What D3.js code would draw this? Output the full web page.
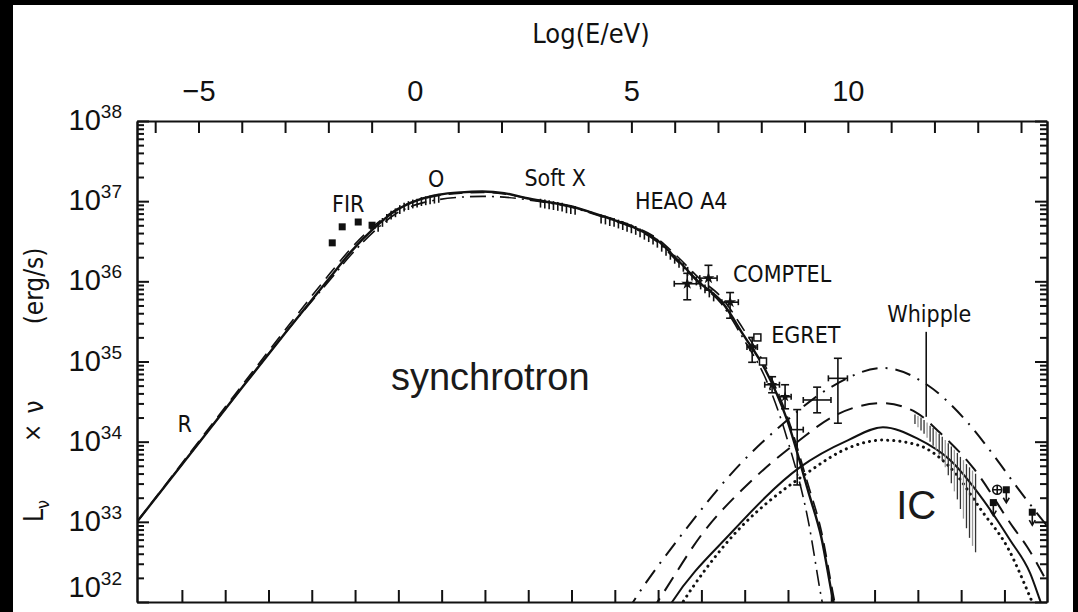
<!DOCTYPE html>
<html>
<head>
<meta charset="utf-8">
<script src="https://cdnjs.cloudflare.com/ajax/libs/d3/7.8.5/d3.min.js"></script>
<style>
  body { margin: 0; background: #000; overflow: hidden; }
  text { fill: #111; font-family: "Liberation Sans Narrow", "DejaVu Sans Condensed", "Liberation Sans", sans-serif; }
  .num { font-family: "Liberation Sans", Arial, sans-serif; }
  .big { font-family: "Liberation Sans", Arial, sans-serif; fill: #1a1a1a; }
  .axis path, .axis line { stroke: #111; stroke-width: 2; }
  .curve { fill: none; stroke: #111; }
  .bar { stroke: #111; stroke-width: 1.6; fill: none; }
</style>
</head>
<body>
<div id="chart"></div>
<script>

// ---- data: log10(E/eV) against log10(L_nu * nu / erg s^-1) ----

// synchrotron model curves
var synchE     = [-6.42,-4.97,-3.97,-2.96,-1.96,-1.46,-0.95,-0.45,0.05,0.55,1.06,1.56,2.06,2.56,3.06,3.57,4.07,4.57,5.07,5.58,6.08,6.58,7.08,7.59,8.09,8.59,9.09,9.39,9.66,9.75];
var synchSolid = [33.00,34.00,34.69,35.38,36.05,36.38,36.66,36.88,37.01,37.08,37.11,37.12,37.10,37.04,36.99,36.94,36.86,36.77,36.67,36.52,36.26,35.98,35.75,35.33,34.90,34.28,33.37,32.80,32.02,31.80];
var synchDashed= [33.00,34.02,34.72,35.42,36.10,36.42,36.69,36.89,37.01,37.07,37.10,37.11,37.09,37.04,36.99,36.94,36.86,36.78,36.68,36.54,36.30,36.03,35.80,35.40,34.95,34.33,33.45,32.88,32.10,31.85];
var synchDdE   = [-6.42,-4.97,-3.97,-2.96,-1.96,-1.46,-0.95,-0.45,0.05,0.55,1.06,1.56,2.06,2.56,3.06,3.57,4.07,4.57,5.07,5.58,6.08,6.58,7.08,7.59,8.09,8.59,9.09,9.40,9.50];
var synchDd    = [33.00,34.00,34.69,35.38,36.02,36.34,36.62,36.84,36.96,37.02,37.05,37.06,37.05,37.02,36.98,36.93,36.85,36.76,36.66,36.50,36.24,35.97,35.72,35.28,34.80,34.05,33.00,32.02,31.75];

// inverse Compton model curves
var icDdE     = [4.90,5.04,6.19,7.53,8.41,9.61,10.81,11.83,12.75,13.45,13.91,14.60];
var icDd      = [31.88,32.00,32.86,33.73,34.18,34.68,34.92,34.71,34.25,33.77,33.43,32.95];
var icDashE   = [5.45,5.60,6.65,7.79,8.89,9.61,10.81,11.59,12.13,12.90,13.82,14.14,14.60];
var icDash    = [31.88,32.00,32.86,33.52,34.02,34.30,34.48,34.36,34.11,33.67,32.93,32.69,32.25];
var icSolidE  = [5.80,5.94,7.30,8.89,10.01,10.81,11.60,12.36,13.13,13.75,14.21,14.44,14.55];
var icSolid   = [31.88,32.00,32.86,33.68,34.02,34.18,34.04,33.77,33.27,32.77,32.36,32.02,31.85];
var icDotE    = [6.05,6.19,7.14,9.06,10.05,10.81,11.60,12.36,13.13,13.68,14.21,14.35];
var icDot     = [31.88,32.00,32.70,33.61,33.93,34.02,33.96,33.68,33.11,32.69,32.06,31.88];

// measurements
var firE  = [-1.91,-1.68,-1.31,-0.99];
var firL  = [36.48,36.68,36.74,36.70];
var optE  = [-0.85,-0.75,-0.65,-0.55,-0.45,-0.35,-0.25,-0.15,-0.05,0.05,0.15,0.25,0.35,0.45,0.55];
var optL  = [36.70,36.76,36.81,36.85,36.88,36.92,36.95,36.97,36.99,37.00,37.02,37.03,37.04,37.05,37.06];
var sxE   = [2.90,3.00,3.10,3.20,3.30,3.40,3.50,3.60,3.70];
var sxL   = [37.00,36.99,36.98,36.97,36.96,36.95,36.93,36.92,36.91];
var heaoE = [4.30,4.40,4.50,4.60,4.70,4.80,4.90,5.00,5.10,5.20,5.30,5.40,5.50,5.60,5.70,5.80,5.90,6.00,6.10,6.20,6.30,6.40,6.50,6.60,6.70,6.80,6.90];
var heaoL = [36.80,36.79,36.77,36.76,36.74,36.72,36.70,36.68,36.66,36.63,36.60,36.57,36.54,36.50,36.45,36.40,36.35,36.30,36.25,36.20,36.15,36.09,36.03,35.98,35.93,35.88,35.83];

var compE   = [6.29,6.78,7.28];
var compL   = [35.97,36.04,35.74];
var compDE  = [0.30,0.20,0.19];
var compLo  = [35.77,35.89,35.54];
var compHi  = [36.10,36.20,35.86];

var egE   = [7.79,8.25,8.55,8.83,9.29,9.77];
var egL   = [35.18,34.71,34.56,34.15,34.52,34.79];
var egDE  = [0.12,0.17,0.14,0.14,0.32,0.22];
var egLo  = [34.99,34.61,34.41,33.46,34.36,34.23];
var egHi  = [35.30,34.81,34.71,34.40,34.68,35.04];
var egSqE = [7.91,8.04];
var egSqL = [35.30,35.00];

var whE   = [11.55,11.62,11.69,11.76,11.83,11.90,11.97,12.04,12.11,12.18,12.25,12.32,12.39,12.46,12.53,12.60,12.67,12.74,12.81,12.88,12.95];
var whTop = [34.34,34.32,34.30,34.27,34.24,34.20,34.17,34.13,34.10,34.06,34.02,33.98,33.94,33.90,33.86,33.81,33.77,33.72,33.68,33.64,33.60];
var whBot = [34.22,34.18,34.14,34.10,34.05,34.00,33.95,33.90,33.84,33.76,33.68,33.58,33.48,33.38,33.28,33.16,33.04,32.92,32.80,32.70,32.62];

var ulE   = [13.36,13.66,14.26];   // upper limits
var ulL   = [33.24,33.40,33.12];
var circE = [13.45];
var circL = [33.40];

// axis ticks
var topTicks    = [-6,-5,-4,-3,-2,-1,0,1,2,3,4,5,6,7,8,9,10,11,12,13,14];
var topLabels   = [-5,0,5,10];
var nuTicks     = [9,10,11,12,13,14,15,16,17,18,19,20,21,22,23,24,25,26,27,28]; // log10(nu/Hz)
var yDecades    = [32,33,34,35,36,37,38];

// ---- layout ----
var margin = {top: 121, right: 31, bottom: 10, left: 137},
    width = 1078 - margin.left - margin.right,
    height = 612 - margin.top - margin.bottom;

var svg = d3.select("#chart").append("svg")
    .attr("width", 1078)
    .attr("height", 612)
    .style("display", "block");

svg.append("rect").attr("width", 1078).attr("height", 612).attr("fill", "#000");
svg.append("rect").attr("x", 13).attr("y", 5).attr("width", 1060).attr("height", 607).attr("fill", "#fff");

var g = svg.append("g")
    .attr("transform", "translate(" + margin.left + "," + margin.top + ")");

var x = d3.scaleLinear().domain([-6.42, 14.60]).range([0, width]);
var y = d3.scaleLog().domain([1e32, 1e38]).range([height, 0]);

function Y(l) { return y(Math.pow(10, l)); }

g.append("clipPath").attr("id", "clip")
  .append("rect").attr("width", width).attr("height", height);

// ---- axes ----
g.append("g").attr("class", "axis")
  .call(d3.axisTop(x).tickValues(topTicks).tickSizeInner(-12).tickSizeOuter(0).tickPadding(20)
    .tickFormat(function(d) { return topLabels.indexOf(d) >= 0 ? d3.format("d")(d) : ""; }))
  .selectAll("text").attr("class", "num").style("font-size", "29px").attr("fill", "#111");

g.append("g").attr("class", "axis")
  .attr("transform", "translate(0," + height + ")")
  .call(d3.axisBottom(x).tickValues(nuTicks.map(function(n) { return n - 14.383; }))
    .tickSizeInner(-12).tickSizeOuter(0).tickFormat(""));

var minorY = [];
yDecades.slice(0, -1).forEach(function(k) {
  [2,3,4,5,6,7,8,9].forEach(function(m) { minorY.push(m * Math.pow(10, k)); });
});
var majorY = yDecades.map(function(k) { return Math.pow(10, k); });

g.append("g").attr("class", "axis")
  .call(d3.axisLeft(y).tickValues(majorY).tickSizeInner(-12).tickSizeOuter(0).tickFormat(""));
g.append("g").attr("class", "axis")
  .call(d3.axisLeft(y).tickValues(minorY).tickSizeInner(-7).tickSizeOuter(0).tickFormat(""));
g.append("g").attr("class", "axis")
  .attr("transform", "translate(" + width + ",0)")
  .call(d3.axisRight(y).tickValues(majorY).tickSizeInner(-12).tickSizeOuter(0).tickFormat(""));
g.append("g").attr("class", "axis")
  .attr("transform", "translate(" + width + ",0)")
  .call(d3.axisRight(y).tickValues(minorY).tickSizeInner(-7).tickSizeOuter(0).tickFormat(""));

// y tick labels 10^k
var ylab = g.selectAll(".ylab").data(yDecades).enter().append("text")
    .attr("class", "num")
    .attr("x", -15)
    .attr("y", function(d) { return Math.min(Y(d) + 9, height - 5); })
    .attr("text-anchor", "end")
    .style("font-size", "29px");
ylab.append("tspan").text("10");
ylab.append("tspan").attr("dy", -12).style("font-size", "19px").text(function(d) { return d; });

// axis titles
svg.append("text")
    .attr("x", 591).attr("y", 43)
    .attr("text-anchor", "middle")
    .style("font-size", "27px")
    .text("Log(E/eV)");

// rotated y title, pieces placed along the axis
var yt = svg.append("g").attr("transform", "translate(43,0) rotate(-90)");
var yL = yt.append("text").attr("x", -522).attr("y", 0).style("font-size", "26px");
yL.append("tspan").text("L");
yL.append("tspan").attr("dy", 6).style("font-size", "18px").text("\u03bd");
yt.append("text").attr("x", -433).attr("y", -2).attr("text-anchor", "middle").style("font-size", "24px").text("\u00d7");
yt.append("text").attr("x", -407).attr("y", 0).attr("text-anchor", "middle").style("font-size", "26px").text("\u03bd");
yt.append("text").attr("x", -286).attr("y", 0).attr("text-anchor", "middle").style("font-size", "26px").text("(erg/s)");

// ---- model curves ----
var line = d3.line().curve(d3.curveMonotoneX)
    .x(function(d) { return x(d[0]); })
    .y(function(d) { return Y(d[1]); });

var curves = g.append("g").attr("clip-path", "url(#clip)");

function addCurve(es, ls, dash, w, cap) {
  curves.append("path")
    .attr("class", "curve")
    .attr("d", line(d3.zip(es, ls)))
    .attr("stroke-width", w)
    .attr("stroke-dasharray", dash)
    .attr("stroke-linecap", cap || "butt");
}

addCurve(synchDdE, synchDd, "16,6,2,6", 1.6);
addCurve(synchE, synchDashed, "14,8", 1.6);
addCurve(synchE, synchSolid, null, 2.4);

addCurve(icDdE, icDd, "16,8,2,8", 2);
addCurve(icDashE, icDash, "16,9", 2);
addCurve(icSolidE, icSolid, null, 2);
addCurve(icDotE, icDot, "0.1,6", 3, "round");

// ---- data points ----
var pts = g.append("g");

// FIR squares
pts.selectAll(".fir").data(d3.zip(firE, firL)).enter().append("rect")
  .attr("x", function(d) { return x(d[0]) - 3.5; })
  .attr("y", function(d) { return Y(d[1]) - 3.5; })
  .attr("width", 7).attr("height", 7)
  .attr("fill", "#111");

// dense hatching of optical / soft X / HEAO A4 spectra
var hatch = d3.zip(optE, optL).concat(d3.zip(sxE, sxL), d3.zip(heaoE, heaoL));
pts.selectAll(".hatch").data(hatch).enter().append("line")
  .attr("class", "bar")
  .attr("stroke-width", 1.3)
  .attr("x1", function(d) { return x(d[0]); })
  .attr("x2", function(d) { return x(d[0]); })
  .attr("y1", function(d) { return Y(d[1] + 0.03); })
  .attr("y2", function(d) { return Y(d[1] - 0.08); });

// crosses with caps
function crosses(es, ls, de, lo, hi) {
  var sel = pts.selectAll(null).data(d3.range(es.length)).enter().append("g");
  sel.append("line").attr("class", "bar")
    .attr("x1", function(i) { return x(es[i] - de[i]); })
    .attr("x2", function(i) { return x(es[i] + de[i]); })
    .attr("y1", function(i) { return Y(ls[i]); })
    .attr("y2", function(i) { return Y(ls[i]); });
  sel.append("line").attr("class", "bar")
    .attr("x1", function(i) { return x(es[i]); })
    .attr("x2", function(i) { return x(es[i]); })
    .attr("y1", function(i) { return Y(lo[i]); })
    .attr("y2", function(i) { return Y(hi[i]); });
  [lo, hi].forEach(function(arr) {
    sel.append("line").attr("class", "bar")
      .attr("x1", function(i) { return x(es[i]) - 4; })
      .attr("x2", function(i) { return x(es[i]) + 4; })
      .attr("y1", function(i) { return Y(arr[i]); })
      .attr("y2", function(i) { return Y(arr[i]); });
  });
  [-1, 1].forEach(function(s) {
    sel.append("line").attr("class", "bar")
      .attr("x1", function(i) { return x(es[i] + s * de[i]); })
      .attr("x2", function(i) { return x(es[i] + s * de[i]); })
      .attr("y1", function(i) { return Y(ls[i]) - 3; })
      .attr("y2", function(i) { return Y(ls[i]) + 3; });
  });
  return sel;
}

crosses(compE, compL, compDE, compLo, compHi)
  .append("path")
  .attr("transform", function(i) { return "translate(" + x(compE[i]) + "," + Y(compL[i]) + ")"; })
  .attr("d", d3.symbol().type(d3.symbolStar).size(45))
  .attr("fill", "#111");

crosses(egE, egL, egDE, egLo, egHi)
  .filter(function(i) { return i < 3; })
  .append("path")
  .attr("transform", function(i) { return "translate(" + x(egE[i]) + "," + Y(egL[i]) + ")"; })
  .attr("d", d3.symbol().type(d3.symbolStar).size(35))
  .attr("fill", "#111");

pts.selectAll(".egsq").data(d3.zip(egSqE, egSqL)).enter().append("rect")
  .attr("x", function(d) { return x(d[0]) - 3.5; })
  .attr("y", function(d) { return Y(d[1]) - 3.5; })
  .attr("width", 7).attr("height", 7)
  .attr("fill", "#fff").attr("stroke", "#111").attr("stroke-width", 1.5);

// Whipple hatching
pts.selectAll(".wh").data(d3.range(whE.length)).enter().append("line")
  .attr("stroke", function(i) { return i % 3 === 1 ? "#999" : "#333"; })
  .attr("stroke-width", 1.3)
  .attr("x1", function(i) { return x(whE[i]); })
  .attr("x2", function(i) { return x(whE[i]); })
  .attr("y1", function(i) { return Y(whTop[i]); })
  .attr("y2", function(i) { return Y(whBot[i]); });

// upper limits at the highest energies
var ul = pts.selectAll(".ul").data(d3.zip(ulE, ulL)).enter().append("g")
  .attr("transform", function(d) { return "translate(" + x(d[0]) + "," + Y(d[1]) + ")"; });
ul.append("rect").attr("x", -3.5).attr("y", -3.5).attr("width", 7).attr("height", 7).attr("fill", "#111");
ul.append("line").attr("class", "bar").attr("x1", 0).attr("x2", 0).attr("y1", 0).attr("y2", 12);
ul.append("path").attr("d", "M-3,8L0,13L3,8").attr("class", "bar");

pts.selectAll(".circ").data(d3.zip(circE, circL)).enter().append("g")
  .attr("transform", function(d) { return "translate(" + x(d[0]) + "," + Y(d[1]) + ")"; })
  .call(function(s) {
    s.append("circle").attr("r", 4.5).attr("class", "bar").attr("stroke-width", 1.2);
    s.append("path").attr("d", "M-4.5,0H4.5M0,-4.5V4.5").attr("class", "bar").attr("stroke-width", 1.2);
  });

// ---- annotations ----
var notes = [
  {t: "R",       e: -5.32, l: 34.12},
  {t: "FIR",     e: -1.54, l: 36.87},
  {t: "O",       e: 0.49,  l: 37.18},
  {t: "Soft X",  e: 3.24,  l: 37.19},
  {t: "HEAO A4", e: 6.15,  l: 36.90},
  {t: "COMPTEL", e: 8.48,  l: 35.99},
  {t: "EGRET",   e: 9.03,  l: 35.23},
  {t: "Whipple", e: 11.88, l: 35.49}
];
g.selectAll(".note").data(notes).enter().append("text")
  .attr("x", function(d) { return x(d.e); })
  .attr("y", function(d) { return Y(d.l); })
  .attr("text-anchor", "middle")
  .style("font-size", "23px")
  .text(function(d) { return d.t; });

// Whipple pointer
g.append("line").attr("class", "bar")
  .attr("x1", x(11.81)).attr("x2", x(11.81))
  .attr("y1", Y(35.37)).attr("y2", Y(34.31));

g.append("text").attr("class", "big")
  .attr("x", x(1.74)).attr("y", Y(34.64))
  .attr("text-anchor", "middle")
  .style("font-size", "38px")
  .text("synchrotron");

g.append("text").attr("class", "big")
  .attr("x", x(11.58)).attr("y", Y(33.03))
  .attr("text-anchor", "middle")
  .style("font-size", "40px")
  .text("IC");

</script>
</body>
</html>
